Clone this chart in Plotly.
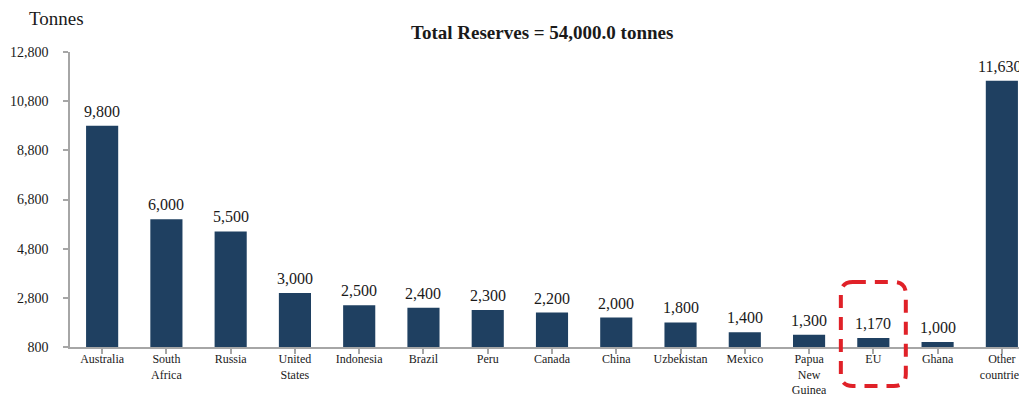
import plotly.graph_objects as go

categories = ["Australia", "South<br>Africa", "Russia", "United<br>States", "Indonesia", "Brazil",
              "Peru", "Canada", "China", "Uzbekistan", "Mexico", "Papua<br>New<br>Guinea", "EU",
              "Ghana", "Other<br>countries"]
values = [9800, 6000, 5500, 3000, 2500, 2400, 2300, 2200, 2000, 1800, 1400, 1300, 1170, 1000, 11630]
labels = ["9,800", "6,000", "5,500", "3,000", "2,500", "2,400", "2,300", "2,200", "2,000",
          "1,800", "1,400", "1,300", "1,170", "1,000", "11,630"]
y_ticks = [800, 2800, 4800, 6800, 8800, 10800, 12800]
highlight = "EU"

OFF = 8  # page body margin offset
W, H = 1027 - OFF, 398 - OFF
ml, mr, mt = 69.5 - OFF, 0, 52 - OFF
plot_bottom = 347 - OFF
mb = H - plot_bottom
pw = W - ml - mr
ph = H - mt - mb
cat_w = 64.3
n_vis = pw / cat_w
xr = [-0.5, -0.5 + n_vis]

SERIF = "Liberation Serif, Times New Roman, serif"
TXT = "#1a1a1a"
AX = "#a6a6a6"

xs = list(range(len(categories)))
fig = go.Figure(go.Bar(
    x=xs, y=values,
    marker=dict(color="#1f4061", line=dict(width=0)),
    width=0.5,
))

for xi, v, lab in zip(xs, values, labels):
    fig.add_annotation(x=xi, y=v, text=lab, showarrow=False, yanchor="bottom", yshift=4,
                       xshift=-2 if xi == len(xs) - 1 else 0,
                       font=dict(family=SERIF, size=16, color=TXT))

fig.update_layout(
    width=W, height=H,
    margin=dict(l=ml, r=mr, t=mt, b=mb, autoexpand=False),
    plot_bgcolor="white", paper_bgcolor="white",
    showlegend=False,
    font=dict(family=SERIF, color=TXT),
    xaxis=dict(
        tickmode="array", tickvals=xs, ticktext=categories,
        range=xr, showline=True, linecolor=AX, linewidth=1.5,
        ticks="outside", tickson="boundaries", ticklen=5, tickcolor=AX, tickwidth=1.5,
        ticklabelstandoff=-5,
        tickfont=dict(family=SERIF, size=12, color=TXT), showgrid=False, zeroline=False,
    ),
    yaxis=dict(
        range=[800, 12800], tickvals=y_ticks, tickformat=",d",
        showline=True, linecolor=AX, linewidth=1.5,
        ticks="outside", ticklen=5, tickcolor=AX, tickwidth=1.5,
        ticklabelstandoff=12,
        tickfont=dict(family=SERIF, size=14, color=TXT), showgrid=False, zeroline=False,
    ),
)

def px(v):
    return (v - OFF - ml) / pw
def py(v):
    return (plot_bottom - (v - OFF)) / ph

fig.add_annotation(text="<b>Total Reserves = 54,000.0 tonnes</b>", xref="paper", yref="paper",
                   x=px(542), y=py(33), xanchor="center", yanchor="middle",
                   showarrow=False, font=dict(family=SERIF, size=19, color=TXT))
fig.add_annotation(text="Tonnes", xref="paper", yref="paper",
                   x=px(26), y=py(18), xanchor="left", yanchor="middle",
                   showarrow=False, font=dict(family=SERIF, size=19, color=TXT))

# dashed rounded highlight box around EU category
idx = categories.index(highlight)
cx = 69.5 + (idx - xr[0]) * cat_w
x0p, x1p = cx - 32.5, cx + 32.5
y0p, y1p = 282, 386
r = 12
path = (f"M {px(x0p + r)},{py(y0p)} L {px(x1p - r)},{py(y0p)} "
        f"Q {px(x1p)},{py(y0p)} {px(x1p)},{py(y0p + r)} "
        f"L {px(x1p)},{py(y1p - r)} Q {px(x1p)},{py(y1p)} {px(x1p - r)},{py(y1p)} "
        f"L {px(x0p + r)},{py(y1p)} Q {px(x0p)},{py(y1p)} {px(x0p)},{py(y1p - r)} "
        f"L {px(x0p)},{py(y0p + r)} Q {px(x0p)},{py(y0p)} {px(x0p + r)},{py(y0p)} Z")
fig.add_shape(type="path", path=path, xref="paper", yref="paper",
              line=dict(color="#e02128", width=4, dash="13px,9px"))

fig.write_html("out.html")
